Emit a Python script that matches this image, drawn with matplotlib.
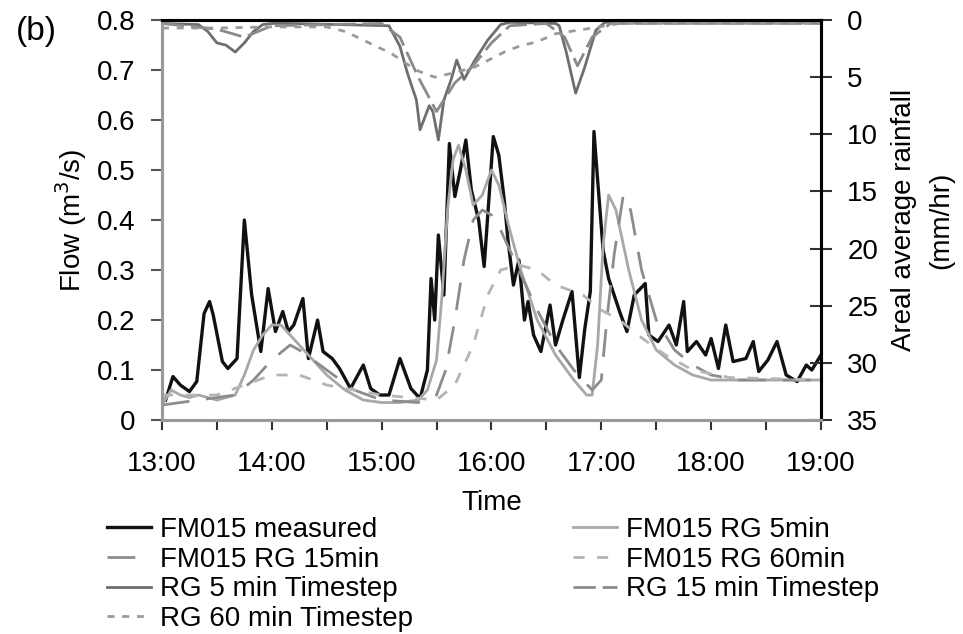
import numpy as np
import matplotlib
matplotlib.use("Agg")
import matplotlib.pyplot as plt

plt.rcParams['font.family'] = ['Liberation Sans', 'DejaVu Sans']

# minutes after 13:00
measured_t = [2, 6, 10, 15, 19, 23, 26, 28, 33, 36, 41, 45, 49, 54, 58, 62, 66, 69, 72, 77,
              80, 85, 88, 93, 97, 103, 110, 114, 119, 124, 130, 136, 141, 145, 147, 149, 151,
              154, 157, 160, 163, 166, 169, 173, 176, 181, 184, 187, 189, 192, 195, 198, 200,
              203, 207, 212, 215, 219, 224, 228, 231, 234, 236, 238, 241, 244, 250, 254, 258,
              264, 266, 271, 277, 281, 285, 287, 292, 297, 300, 304, 308, 312, 319, 323, 326,
              331, 336, 341, 347, 352, 355, 360]
measured_q = [0.04, 0.087, 0.07, 0.057, 0.077, 0.213, 0.237, 0.21, 0.117, 0.103, 0.123, 0.40,
              0.25, 0.137, 0.263, 0.177, 0.217, 0.177, 0.19, 0.243, 0.123, 0.2, 0.137, 0.123,
              0.103, 0.063, 0.11, 0.063, 0.05, 0.05, 0.123, 0.063, 0.043, 0.10, 0.283, 0.20,
              0.37, 0.25, 0.553, 0.447, 0.50, 0.56, 0.46, 0.40, 0.307, 0.567, 0.53, 0.44, 0.36,
              0.27, 0.32, 0.20, 0.237, 0.17, 0.137, 0.23, 0.15, 0.20, 0.257, 0.085, 0.183,
              0.257, 0.577, 0.48, 0.34, 0.283, 0.217, 0.177, 0.25, 0.273, 0.17, 0.157, 0.19,
              0.15, 0.237, 0.137, 0.157, 0.13, 0.163, 0.103, 0.19, 0.117, 0.123, 0.157, 0.097,
              0.12, 0.157, 0.09, 0.077, 0.11, 0.10, 0.13]

rg5_t = [0, 5, 10, 15, 20, 25, 30, 35, 40, 45, 50, 55, 60, 65, 70, 80, 90, 100, 110, 120,
         130, 140, 145, 150, 153, 156, 159, 162, 166, 170, 175, 180, 184, 190, 196, 205, 215,
         225, 232, 235, 238, 241, 244, 248, 255, 262, 270, 280, 290, 300, 360]
rg5_q = [0.03, 0.06, 0.05, 0.045, 0.05, 0.045, 0.04, 0.045, 0.05, 0.09, 0.14, 0.17, 0.19,
         0.19, 0.17, 0.13, 0.09, 0.06, 0.04, 0.035, 0.035, 0.04, 0.06, 0.12, 0.25, 0.42, 0.52,
         0.55, 0.50, 0.43, 0.45, 0.50, 0.47, 0.38, 0.30, 0.20, 0.13, 0.08, 0.05, 0.05, 0.15,
         0.35, 0.45, 0.42, 0.30, 0.20, 0.14, 0.11, 0.09, 0.08, 0.08]

rg15_t = [0, 20, 40, 50, 60, 70, 75, 90, 105, 120, 140, 150, 155, 160, 165, 170, 175, 180,
          185, 195, 205, 215, 225, 235, 240, 243, 247, 252, 256, 262, 270, 280, 290, 300,
          315, 360]
rg15_q = [0.03, 0.04, 0.05, 0.08, 0.12, 0.15, 0.14, 0.10, 0.06, 0.04, 0.035, 0.05, 0.10,
          0.20, 0.32, 0.40, 0.42, 0.41, 0.38, 0.30, 0.22, 0.15, 0.10, 0.06, 0.08, 0.20, 0.33,
          0.45, 0.42, 0.30, 0.20, 0.14, 0.11, 0.09, 0.08, 0.08]

rg60_t = [0, 30, 60, 75, 90, 120, 150, 160, 170, 178, 185, 195, 205, 215, 230, 240, 250, 260,
          275, 290, 310, 360]
rg60_q = [0.05, 0.05, 0.09, 0.09, 0.07, 0.05, 0.04, 0.07, 0.15, 0.25, 0.30, 0.31, 0.30, 0.27,
          0.25, 0.22, 0.20, 0.17, 0.13, 0.10, 0.085, 0.08]

# rainfall, mm/hr
rain5_t = [0, 20, 25, 30, 35, 40, 45, 50, 55, 60, 70, 124, 130, 134, 139, 141, 146, 148, 151,
           154, 158, 161, 165, 171, 178, 185, 190, 215, 217, 221, 226, 231, 237, 242, 360]
rain5_v = [0.3, 0.4, 1.0, 2.0, 2.2, 2.8, 2.0, 1.0, 0.4, 0.3, 0.3, 0.5, 2.3, 4.6, 7.0, 9.6,
           7.5, 8.0, 10.5, 7.0, 5.2, 3.5, 5.2, 3.5, 1.75, 0.4, 0.2, 0.3, 0.5, 2.9, 6.4, 4.1,
           0.9, 0.2, 0.2]

rain15_t = [0, 30, 45, 60, 120, 130, 140, 150, 160, 170, 180, 190, 210, 220, 227, 235, 245, 360]
rain15_v = [0.3, 0.8, 1.5, 0.5, 0.3, 1.5, 5.0, 8.0, 5.5, 4.0, 2.0, 0.5, 0.3, 1.5, 4.0, 1.5,
            0.3, 0.3]

rain60_t = [0, 30, 60, 90, 100, 110, 117, 125, 139, 149, 160, 171, 181, 187, 195, 205, 215,
            235, 250, 360]
rain60_v = [0.7, 0.7, 0.6, 0.6, 1.0, 1.75, 2.3, 2.9, 4.4, 5.0, 4.6, 4.1, 3.3, 2.8, 2.3, 1.9,
            1.2, 0.7, 0.3, 0.3]

hour_labels = ['13:00', '14:00', '15:00', '16:00', '17:00', '18:00', '19:00']
flow_labels = ['0', '0.1', '0.2', '0.3', '0.4', '0.5', '0.6', '0.7', '0.8']

fs = 20
fig = plt.figure(figsize=(9.63, 6.34), dpi=100)
ax = fig.add_axes([0.1682, 0.3375, 0.6843, 0.6309])
ax2 = ax.twinx()

l_meas, = ax.plot(measured_t, measured_q, color='#111111', lw=2.4, label='FM015 measured')
l_rg5, = ax.plot(rg5_t, rg5_q, color='#a8a8a8', lw=2.0, label='FM015 RG 5min')
l_rg15, = ax.plot(rg15_t, rg15_q, color='#8c8c8c', lw=2.0, dashes=(10, 6), label='FM015 RG 15min')
l_rg60, = ax.plot(rg60_t, rg60_q, color='#b4b4b4', lw=2.0, dashes=(4, 4.5), label='FM015 RG 60min')

r5, = ax2.plot(rain5_t, rain5_v, color='#6e6e6e', lw=2.0, label='RG 5 min Timestep')
r15, = ax2.plot(rain15_t, rain15_v, color='#8a8a8a', lw=2.0, dashes=(8, 2.5), label='RG 15 min Timestep')
r60, = ax2.plot(rain60_t, rain60_v, color='#9a9a9a', lw=2.0, dashes=(2.5, 2.8), label='RG 60 min Timestep')

ax.set_xlim(0, 360)
ax.set_ylim(0, 0.8)
ax.set_xticks(np.arange(0, 361, 60))
ax.set_xticks(np.arange(30, 361, 60), minor=True)
ax.set_xticklabels(hour_labels)
ax.set_yticks(np.arange(0, 0.81, 0.1))
ax.set_yticklabels(flow_labels)

ax2.set_ylim(35, 0)
ax2.set_yticks(np.arange(0, 36, 5))

ax.tick_params(axis='x', which='both', direction='out', length=7, width=1.5,
               color='#333333', labelsize=fs, pad=15)
ax.tick_params(axis='y', direction='out', length=8, width=1.5, color='#555555',
               labelsize=fs, pad=11)
ax2.tick_params(axis='y', direction='inout', length=16, width=1.5, color='#333333',
                labelsize=fs, pad=11)

for a in (ax, ax2):
    a.spines['left'].set_color('#999999')
    a.spines['bottom'].set_color('#999999')
    a.spines['right'].set_color('black')
    a.spines['top'].set_color('black')
    for s in a.spines.values():
        s.set_linewidth(2.2)

ax.set_xlabel('Time', fontsize=fs, labelpad=10)
ax.set_ylabel('Flow (m$^3$/s)', fontsize=fs, labelpad=6)
ax2.set_ylabel('Areal average rainfall\n(mm/hr)', fontsize=fs, rotation=90,
               labelpad=9, linespacing=1.55)

fig.text(0.017, 0.975, '(b)', fontsize=24, va='top')

fig.legend(handles=[l_meas, l_rg15, r5, r60], loc='upper left',
           bbox_to_anchor=(107 / 963, 1 - 517 / 634), frameon=False, fontsize=fs,
           borderpad=0, borderaxespad=0, labelspacing=0.13, handlelength=1.6,
           handletextpad=0.3)
fig.legend(handles=[l_rg5, l_rg60, r15], loc='upper left',
           bbox_to_anchor=(573 / 963, 1 - 517 / 634), frameon=False, fontsize=fs,
           borderpad=0, borderaxespad=0, labelspacing=0.13, handlelength=1.6,
           handletextpad=0.3)

fig.savefig('out.png', dpi=100)
